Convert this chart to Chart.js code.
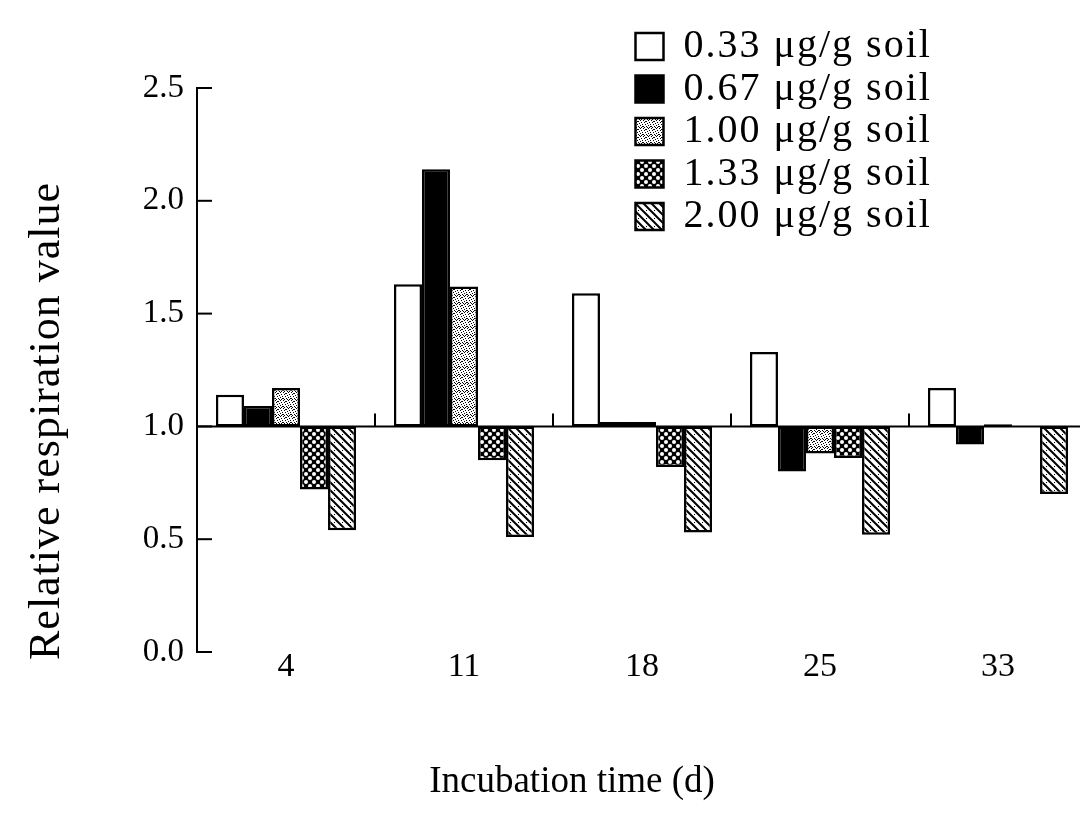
<!DOCTYPE html>
<html><head><meta charset="utf-8">
<script src="https://cdn.jsdelivr.net/npm/chart.js@4.4.1/dist/chart.umd.min.js"></script>
<style>html,body{margin:0;padding:0;background:#fff;overflow:hidden}#wrap{width:1080px;height:831px;overflow:hidden;position:relative;background:#fff}canvas{display:block}</style>
</head><body><div id="wrap"><canvas id="c" width="1100" height="831"></canvas></div>
<script>
const categories = ['4', '11', '18', '25', '33'];
const seriesLabels = ['0.33 μg/g soil', '0.67 μg/g soil', '1.00 μg/g soil', '1.33 μg/g soil', '2.00 μg/g soil'];
const dose033 = [1.14, 1.63, 1.59, 1.33, 1.17];
const dose067 = [1.09, 2.14, 1.02, 0.80, 0.92];
const dose100 = [1.17, 1.62, 1.02, 0.88, 1.01];
const dose133 = [0.72, 0.85, 0.82, 0.86, 1.00];
const dose200 = [0.54, 0.51, 0.53, 0.52, 0.70];
const yTickLabels = ['0.0', '0.5', '1.0', '1.5', '2.0', '2.5'];
const xTitle = 'Incubation time (d)';
const yTitle = 'Relative respiration value';
const baselineValue = 1.0;

function tile(draw) {
  const c = document.createElement('canvas');
  c.width = 8; c.height = 8;
  const g = c.getContext('2d');
  draw(g);
  return g.createPattern(c, 'repeat');
}
const fillWhite = '#ffffff';
const fillBlack = '#000000';
const fillStipple = tile(g => {
  g.fillStyle = '#fff'; g.fillRect(0, 0, 8, 8);
  g.fillStyle = '#000';
  [[0,0],[3,0],[6,1],[1,2],[4,2],[7,3],[2,4],[5,4],[0,5],[3,6],[6,6],[1,7],[4,7],[7,7],[5,1],[2,6]].forEach(p => g.fillRect(p[0], p[1], 1, 1));
});
const fillDots = tile(g => {
  g.fillStyle = '#000'; g.fillRect(0, 0, 8, 8);
  g.fillStyle = '#fff';
  g.beginPath(); g.arc(2, 2, 2.0, 0, Math.PI * 2); g.fill();
  g.beginPath(); g.arc(6, 6, 2.0, 0, Math.PI * 2); g.fill();
});
const fillHatch = tile(g => {
  g.fillStyle = '#fff'; g.fillRect(0, 0, 8, 8);
  g.strokeStyle = '#000'; g.lineWidth = 2;
  g.beginPath();
  g.moveTo(-2, -2); g.lineTo(10, 10);
  g.moveTo(-2, 6); g.lineTo(2, 10);
  g.moveTo(6, -2); g.lineTo(10, 2);
  g.stroke();
  g.fillStyle = '#000';
  g.fillRect(6, 2, 1, 1);
});

const seriesData = [dose033, dose067, dose100, dose133, dose200];
const seriesFills = [fillWhite, fillBlack, fillStipple, fillDots, fillHatch];

function withSpacing(obj, method, spacing, before) {
  if (obj['_wrapped_' + method]) return;
  const orig = obj[method];
  obj[method] = function (...args) {
    const c = this.ctx;
    c.save();
    try { c.letterSpacing = spacing; } catch (e) {}
    const saved = before ? before(this) : null;
    orig.apply(this, args);
    if (saved) saved();
    c.restore();
  };
  obj['_wrapped_' + method] = true;
}

const decor = {
  id: 'decor',
  afterLayout(chart) {
    const lg = chart.legend;
    if (lg) {
      const w = lg.width, h = lg.height;
      lg.left = 633; lg.top = 24; lg.right = 633 + w + 150; lg.bottom = 24 + h;
      withSpacing(lg, 'draw', '2px');
    }
    const { x, y } = chart.scales;
    withSpacing(x, 'drawTitle', '0px', s => {
      const l = s.left, r = s.right;
      s.left = l - 70; s.right = r - 70;
      return () => { s.left = l; s.right = r; };
    });
    withSpacing(y, 'drawTitle', '1px', s => {
      const b = s.bottom;
      s.bottom = b + 8;
      return () => { s.bottom = b; };
    });
  },
  afterDatasetsDraw(chart) {
    const { ctx, chartArea: a, scales: { x, y } } = chart;
    ctx.save();
    ctx.strokeStyle = '#000';
    ctx.lineWidth = 2;
    const yb = y.getPixelForValue(baselineValue);
    ctx.beginPath(); ctx.moveTo(a.left, yb); ctx.lineTo(a.right + 20, yb); ctx.stroke();
    const n = categories.length;
    for (let i = 1; i <= n; i++) {
      const xb = i < n ? (x.getPixelForValue(i - 1) + x.getPixelForValue(i)) / 2 : a.right;
      ctx.beginPath(); ctx.moveTo(xb, yb); ctx.lineTo(xb, yb - 13); ctx.stroke();
    }
    y.ticks.forEach(t => {
      const py = y.getPixelForValue(t.value);
      ctx.beginPath(); ctx.moveTo(a.left, py); ctx.lineTo(a.left + 15, py); ctx.stroke();
    });
    ctx.restore();
  }
};

Chart.defaults.font.family = "'Liberation Serif', 'Times New Roman', serif";
Chart.defaults.color = '#000';

new Chart(document.getElementById('c'), {
  type: 'bar',
  data: {
    labels: categories,
    datasets: seriesLabels.map((lab, i) => ({
      label: lab,
      data: seriesData[i],
      backgroundColor: seriesFills[i],
      borderColor: '#000',
      borderWidth: 2.5,
      borderSkipped: false,
      base: baselineValue,
      categoryPercentage: 0.787,
      barPercentage: 1.0
    }))
  },
  options: {
    responsive: false,
    animation: false,
    devicePixelRatio: 1,
    events: [],
    layout: { padding: { left: 0, right: 13, top: 88, bottom: 0 } },
    plugins: {
      tooltip: { enabled: false },
      legend: {
        position: 'chartArea',
        align: 'start',
        labels: {
          font: { size: 40 },
          color: '#000',
          boxWidth: 28,
          boxHeight: 27,
          padding: 2.5
        }
      }
    },
    scales: {
      x: {
        grid: { display: false },
        border: { display: false },
        ticks: { font: { size: 34 }, padding: -13, maxRotation: 0 },
        title: { display: true, text: xTitle, font: { size: 37 }, padding: { top: 60, bottom: 27 } },
        afterFit(s) { s.height = 179; }
      },
      y: {
        min: 0,
        max: 2.5,
        grid: { display: false, drawTicks: false },
        border: { display: true, color: '#000', width: 2 },
        ticks: {
          stepSize: 0.5,
          font: { size: 33 },
          padding: 13,
          callback: (v, i) => yTickLabels[i]
        },
        title: { display: true, text: yTitle, align: 'start', font: { size: 44 }, padding: { top: 21, bottom: 0 } },
        afterFit(s) { s.width = 197; }
      }
    }
  },
  plugins: [decor]
});
</script>
</body></html>
